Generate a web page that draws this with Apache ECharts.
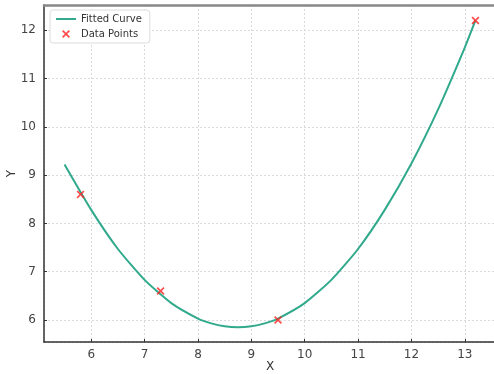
<!DOCTYPE html>
<html>
<head>
<meta charset="utf-8">
<script src="https://cdn.jsdelivr.net/npm/echarts@6/dist/echarts.min.js"></script>
<style>
  html, body { margin: 0; padding: 0; background: #fff; }
  #chart { width: 494px; height: 374px; }
</style>
</head>
<body>
<div id="chart"></div>
<script>
// values
const curveX = [5.5, 6.0, 6.5, 7.0, 7.5, 8.0, 8.25, 8.5, 8.75, 9.0, 9.25, 9.5, 10.0, 10.5, 11.0, 11.5, 12.0, 12.5, 13.0, 13.2];
const curveY = [9.22, 8.28, 7.47, 6.83, 6.35, 6.03, 5.93, 5.87, 5.85, 5.87, 5.93, 6.03, 6.35, 6.83, 7.47, 8.28, 9.24, 10.36, 11.64, 12.2];
const pointsX = [5.8, 7.3, 9.5, 13.2];
const pointsY = [8.6, 6.6, 6.0, 12.2];

const FONT = 'DejaVu Sans';
const crossPath = 'path://M0,1.5 L1.5,0 L5,3.5 L8.5,0 L10,1.5 L6.5,5 L10,8.5 L8.5,10 L5,6.5 L1.5,10 L0,8.5 L3.5,5 Z';

let myChart = echarts.init(document.getElementById('chart'));

const gridLine = { show: true, lineStyle: { color: '#dadada', type: [2, 2], width: 1 } };

myChart.setOption({
  animation: false,
  textStyle: { fontFamily: FONT },
  grid: { left: 44, right: -2, top: 5, bottom: 32, containLabel: false, outerBoundsMode: 'none' },
  legend: {
    left: 50, top: 10, orient: 'vertical',
    backgroundColor: '#fff', borderColor: '#dcdcdc', borderWidth: 1, borderRadius: 3,
    padding: [4, 8, 4, 6], itemGap: 5, itemWidth: 20, itemHeight: 8,
    textStyle: { fontFamily: FONT, fontSize: 10, color: '#333' },
    data: [
      { name: 'Fitted Curve', icon: 'path://M0,0 L20,0 L20,2 L0,2 Z' },
      { name: 'Data Points', icon: crossPath, itemStyle: { color: '#ff2020' } }
    ]
  },
  xAxis: [
    {
      type: 'value', min: 5.115, max: 13.585, splitNumber: 8, minInterval: 1, maxInterval: 1,
      name: 'X', nameLocation: 'middle', nameGap: 19, nameMoveOverlap: false,
      nameTextStyle: { fontFamily: FONT, fontSize: 12, color: '#333' },
      axisLine: { show: true, onZero: false, lineStyle: { color: '#333', width: 1.5 } },
      axisTick: { show: true, inside: true, length: 3, lineStyle: { color: '#333' } },
      axisLabel: { fontFamily: FONT, fontSize: 12, color: '#444', margin: 7, showMinLabel: false, showMaxLabel: false },
      splitLine: gridLine
    },
    {
      type: 'value', position: 'top', min: 5.115, max: 13.585,
      axisLine: { show: true, lineStyle: { color: '#888', width: 2.5 } },
      axisTick: { show: false }, axisLabel: { show: false }, splitLine: { show: false }
    }
  ],
  yAxis: {
    type: 'value', min: 5.545, max: 12.52, splitNumber: 7, minInterval: 1, maxInterval: 1,
    name: 'Y', nameLocation: 'middle', nameGap: 26, nameRotate: 90, nameMoveOverlap: false,
    nameTextStyle: { fontFamily: FONT, fontSize: 12, color: '#333' },
    axisLine: { show: true, onZero: false, lineStyle: { color: '#333', width: 1.5 } },
    axisTick: { show: true, inside: true, length: 3, lineStyle: { color: '#333' } },
    axisLabel: { fontFamily: FONT, fontSize: 12, color: '#444', margin: 8, showMinLabel: false, showMaxLabel: false },
    splitLine: gridLine
  },
  series: [
    {
      name: 'Fitted Curve', type: 'line', smooth: 0.2, showSymbol: false,
      lineStyle: { color: '#30a98c', width: 2 }, itemStyle: { color: '#30a98c' },
      data: curveX.map((x, i) => [x, curveY[i]])
    },
    {
      name: 'Data Points', type: 'scatter', symbol: crossPath, symbolSize: 8,
      itemStyle: { color: '#ff2020' }, z: 5,
      data: pointsX.map((x, i) => [x, pointsY[i]])
    }
  ]
});
</script>
</body>
</html>
